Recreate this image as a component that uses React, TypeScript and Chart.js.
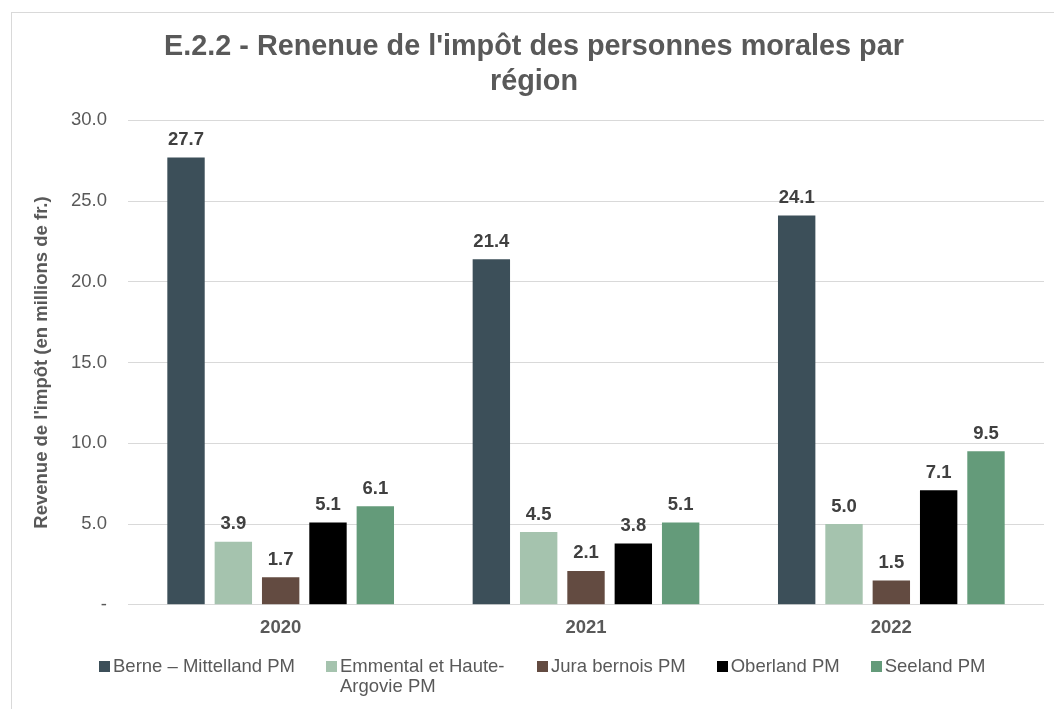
import React, { useEffect, useRef } from 'react';
import { Chart, registerables } from 'chart.js';

Chart.register(...registerables);

const categories = ['2020', '2021', '2022'];
const seriesLabels = [
  'Berne – Mittelland PM',
  'Emmental et Haute-Argovie PM',
  'Jura bernois PM',
  'Oberland PM',
  'Seeland PM',
];
const berneValues = [27.7, 21.4, 24.1];
const emmentalValues = [3.9, 4.5, 5.0];
const juraValues = [1.7, 2.1, 1.5];
const oberlandValues = [5.1, 3.8, 7.1];
const seelandValues = [6.1, 5.1, 9.5];
const seriesColors = ['#3C4F59', '#A5C3AE', '#634B41', '#000000', '#649B7A'];
const yTickValues = [0, 5, 10, 15, 20, 25, 30];
const yTickLabels = ['-', '5.0', '10.0', '15.0', '20.0', '25.0', '30.0'];
const titleLines = ["E.2.2 - Renenue de l'impôt des personnes morales par", 'région'];
const yAxisTitle = "Revenue de l'impôt (en millions de fr.)";

const FONT = '"Liberation Sans", Arial, sans-serif';
const TEXT = '#595959';

const allSeries = [berneValues, emmentalValues, juraValues, oberlandValues, seelandValues];

const dataLabelsPlugin = {
  id: 'dataLabels',
  afterDatasetsDraw(chart: any) {
    const ctx = chart.ctx;
    ctx.save();
    ctx.font = `bold 18.5px ${FONT}`;
    ctx.fillStyle = '#404040';
    ctx.textAlign = 'center';
    ctx.textBaseline = 'alphabetic';
    chart.data.datasets.forEach((ds: any, i: number) => {
      const meta = chart.getDatasetMeta(i);
      meta.data.forEach((el: any, j: number) => {
        const v = ds.data[j];
        ctx.fillText(Number(v).toFixed(1), el.x, el.y - 12.5);
      });
    });
    ctx.restore();
  },
};

const yTitlePlugin = {
  id: 'yTitle',
  afterDraw(chart: any) {
    const ctx = chart.ctx;
    const area = chart.chartArea;
    ctx.save();
    ctx.translate(41.5, (area.top + area.bottom) / 2);
    ctx.rotate(-Math.PI / 2);
    ctx.font = `bold 18.5px ${FONT}`;
    ctx.fillStyle = TEXT;
    ctx.textAlign = 'center';
    ctx.textBaseline = 'middle';
    ctx.fillText(yAxisTitle, 0, 0);
    ctx.restore();
  },
};

export default function App() {
  const canvasRef = useRef<HTMLCanvasElement | null>(null);

  useEffect(() => {
    if (!canvasRef.current) return;
    const chart = new Chart(canvasRef.current, {
      type: 'bar',
      data: {
        labels: categories,
        datasets: allSeries.map((values, i) => ({
          label: seriesLabels[i],
          data: values,
          backgroundColor: seriesColors[i],
          borderWidth: 0,
          categoryPercentage: 0.775,
          barPercentage: 0.79,
        })),
      },
      options: {
        responsive: false,
        animation: false,
        devicePixelRatio: 1,
        layout: { padding: { left: 24, right: 10, top: 0, bottom: 58 } },
        plugins: {
          legend: { display: false },
          tooltip: { enabled: false },
          title: {
            display: true,
            text: titleLines,
            color: TEXT,
            font: { family: FONT, size: 28.8, weight: 'bold', lineHeight: 1.22 },
            padding: { top: 29.5, bottom: 20.5 },
          },
        },
        scales: {
          x: {
            grid: { display: false, drawTicks: false },
            border: { display: false },
            ticks: {
              color: TEXT,
              font: { family: FONT, size: 18.5, weight: 'bold' },
              padding: 12,
            },
          },
          y: {
            min: 0,
            max: 30,
            grid: { color: '#d9d9d9', drawTicks: false, lineWidth: 1 },
            border: { display: false },
            ticks: {
              stepSize: 5,
              color: TEXT,
              font: { family: FONT, size: 18.5 },
              padding: 21,
              callback: (v: any) => {
                const idx = yTickValues.indexOf(Number(v));
                return idx >= 0 ? yTickLabels[idx] : '';
              },
            },
            afterFit: (scale: any) => {
              scale.width = 104;
            },
          },
        },
      } as any,
      plugins: [dataLabelsPlugin, yTitlePlugin],
    });
    return () => chart.destroy();
  }, []);

  return (
    <div style={{ position: 'fixed', left: 0, top: 0, width: 1054, height: 709, overflow: 'hidden', background: '#fff' }}>
      <div
        style={{
          position: 'absolute',
          left: 11,
          top: 12,
          width: 1200,
          height: 900,
          border: '1px solid #d9d9d9',
        }}
      />
      <canvas ref={canvasRef} width={1054} height={709} style={{ position: 'absolute', left: 0, top: 0, display: 'block' }} />
      <div
        style={{
          position: 'absolute',
          left: 99,
          top: 656,
          display: 'flex',
          gap: 31,
          alignItems: 'flex-start',
          fontFamily: FONT,
          fontSize: 18.5,
          lineHeight: '20px',
          color: TEXT,
        }}
      >
        {seriesLabels.map((label, i) => (
          <div key={label} style={{ display: 'flex', alignItems: 'flex-start' }}>
            <div style={{ width: 11, height: 11, marginTop: 4.5, marginRight: 3, background: seriesColors[i], flex: 'none' }} />
            <div style={i === 1 ? { width: 166 } : { whiteSpace: 'nowrap' }}>{label}</div>
          </div>
        ))}
      </div>
    </div>
  );
}
